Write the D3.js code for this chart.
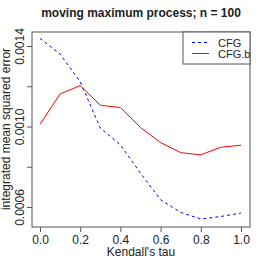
<!DOCTYPE html>
<html><head><meta charset="utf-8">
<script src="https://cdn.jsdelivr.net/npm/d3@7"></script>
<style>body{margin:0;background:#fff}svg{display:block;font-family:"Liberation Sans",Arial,sans-serif}</style>
</head><body>
<script>
const tau = [0, 0.1, 0.2, 0.3, 0.4, 0.5, 0.6, 0.7, 0.8, 0.9, 1.0];
const cfg = [0.001438, 0.00136, 0.001223, 0.000992, 0.000909, 0.000768, 0.000636, 0.000573, 0.00054, 0.000553, 0.00057];
const cfgb = [0.001011, 0.001162, 0.001203, 0.001106, 0.001094, 0.000995, 0.00092, 0.00087, 0.000859, 0.000897, 0.000907];
const xTicks = [0, 0.2, 0.4, 0.6, 0.8, 1.0];
const yTicks = [0.0006, 0.0008, 0.0010, 0.0012, 0.0014];
const yLabelTicks = [0.0006, 0.0010, 0.0014];

const W = 266, H = 266;
const box = {l: 32, r: 250, t: 32, b: 227};
const svg = d3.select("body").append("svg").attr("width", W).attr("height", H);
const x = d3.scaleLinear().domain([0, 1]).range([40, 241]);
const y = d3.scaleLinear().domain([0.0006, 0.0014]).range([207, 46]);

svg.append("rect").attr("x", box.l).attr("y", box.t).attr("width", box.r - box.l).attr("height", box.b - box.t)
  .attr("fill", "none").attr("stroke", "#555").attr("stroke-width", 1);

const xa = svg.append("g").attr("transform", `translate(0,${box.b})`)
  .call(d3.axisBottom(x).tickValues(xTicks).tickFormat(d3.format(".1f")).tickSize(5).tickPadding(3));
xa.select(".domain").remove();
xa.selectAll("line").attr("stroke", "#555");
xa.selectAll("text").attr("font-size", 12).attr("fill", "#222").attr("font-family", "Liberation Sans, Arial, sans-serif");

const ya = svg.append("g").attr("transform", `translate(${box.l},0)`)
  .call(d3.axisLeft(y).tickValues(yTicks).tickFormat(d => yLabelTicks.some(v => Math.abs(v - d) < 1e-9) ? d3.format(".4f")(d) : "").tickSize(5));
ya.select(".domain").remove();
ya.selectAll("line").attr("stroke", "#555");
ya.selectAll("text").attr("font-size", 12).attr("fill", "#222").attr("font-family", "Liberation Sans, Arial, sans-serif")
  .attr("x", null).attr("dy", null).attr("text-anchor", "middle")
  .attr("transform", "translate(-8,0) rotate(-90)");

const line = d3.line().x((d, i) => x(tau[i])).y(d => y(d));
svg.append("path").datum(cfg).attr("d", line).attr("fill", "none").attr("stroke", "#0000ff")
  .attr("stroke-width", 1).attr("stroke-dasharray", "3,3");
svg.append("path").datum(cfgb).attr("d", line).attr("fill", "none").attr("stroke", "#ff0000").attr("stroke-width", 1);

// legend
const lg = svg.append("g");
lg.append("rect").attr("x", 183).attr("y", box.t).attr("width", box.r - 183).attr("height", 32)
  .attr("fill", "#fff").attr("stroke", "#555");
const items = [{n: "CFG", c: "#0000ff", d: "3,3"}, {n: "CFG.b", c: "#ff0000", d: "none"}];
items.forEach((it, i) => {
  const yy = 42.5 + i * 11;
  lg.append("line").attr("x1", 192).attr("x2", 209).attr("y1", yy).attr("y2", yy)
    .attr("stroke", it.c).attr("stroke-width", 1).attr("stroke-dasharray", it.d);
  lg.append("text").attr("x", 218).attr("y", yy + 4).attr("font-size", 11).attr("fill", "#222").text(it.n);
});

svg.append("text").attr("x", 141).attr("y", 17).attr("text-anchor", "middle").attr("font-size", 12)
  .attr("font-weight", "bold").attr("fill", "#222").text("moving maximum process; n = 100");
svg.append("text").attr("x", 141).attr("y", 256).attr("text-anchor", "middle").attr("font-size", 12)
  .attr("fill", "#222").text("Kendall's tau");
svg.append("text").attr("transform", "translate(10,129) rotate(-90)").attr("text-anchor", "middle")
  .attr("font-size", 12).attr("fill", "#222").text("integrated mean squared error");
</script>
</body></html>
